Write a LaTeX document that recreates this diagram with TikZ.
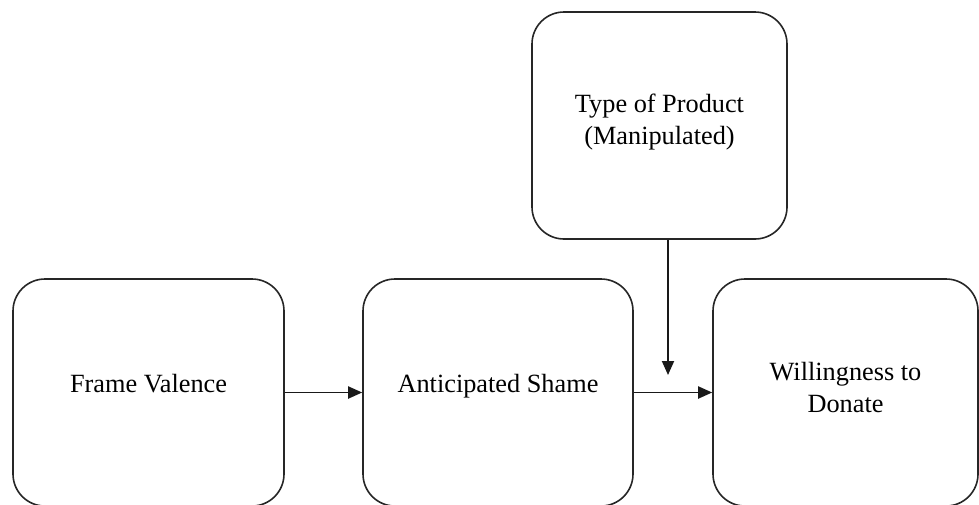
\documentclass[tikz,border=0pt]{standalone}
\usepackage{fontspec}
\setmainfont{Liberation Serif}
\usetikzlibrary{arrows.meta}
\begin{document}
\begin{tikzpicture}[x=1pt,y=-1pt,
  box/.style={draw=black!85, line width=1.6pt, rounded corners=32pt,
    align=center, inner sep=0pt,
    font=\fontsize{26.3}{31.8}\selectfont},
  link/.style={draw=black!90, line width=1.9pt,
    -{Triangle[length=14pt,width=12pt]}}]
  \useasboundingbox (0,0) rectangle (979,504);
  % the three stages of the main path
  \node[box, minimum width=271pt, minimum height=227pt,
        text height=10pt, text depth=10pt] (frame) at (148.5,392.5) {Frame Valence};
  \node[box, minimum width=270pt, minimum height=227pt,
        text height=10pt, text depth=10pt] (shame) at (498,392.5) {Anticipated Shame};
  \node[box, minimum width=265pt, minimum height=227pt] (donate) at (845.5,392.5)
        {Willingness to\\Donate\rule[-11pt]{0pt}{0pt}};
  % the moderator above
  \node[box, minimum width=255pt, minimum height=227pt] (product) at (659.5,125.5)
        {Type of Product\\(Manipulated)\rule[-13pt]{0pt}{0pt}};
  % connectors
  \coordinate (modend) at (668,375);
  \draw[link] (frame) -- (shame);
  \draw[link] (shame) -- (donate);
  \draw[link] (modend |- product.south) -- (modend);
\end{tikzpicture}
\end{document}
